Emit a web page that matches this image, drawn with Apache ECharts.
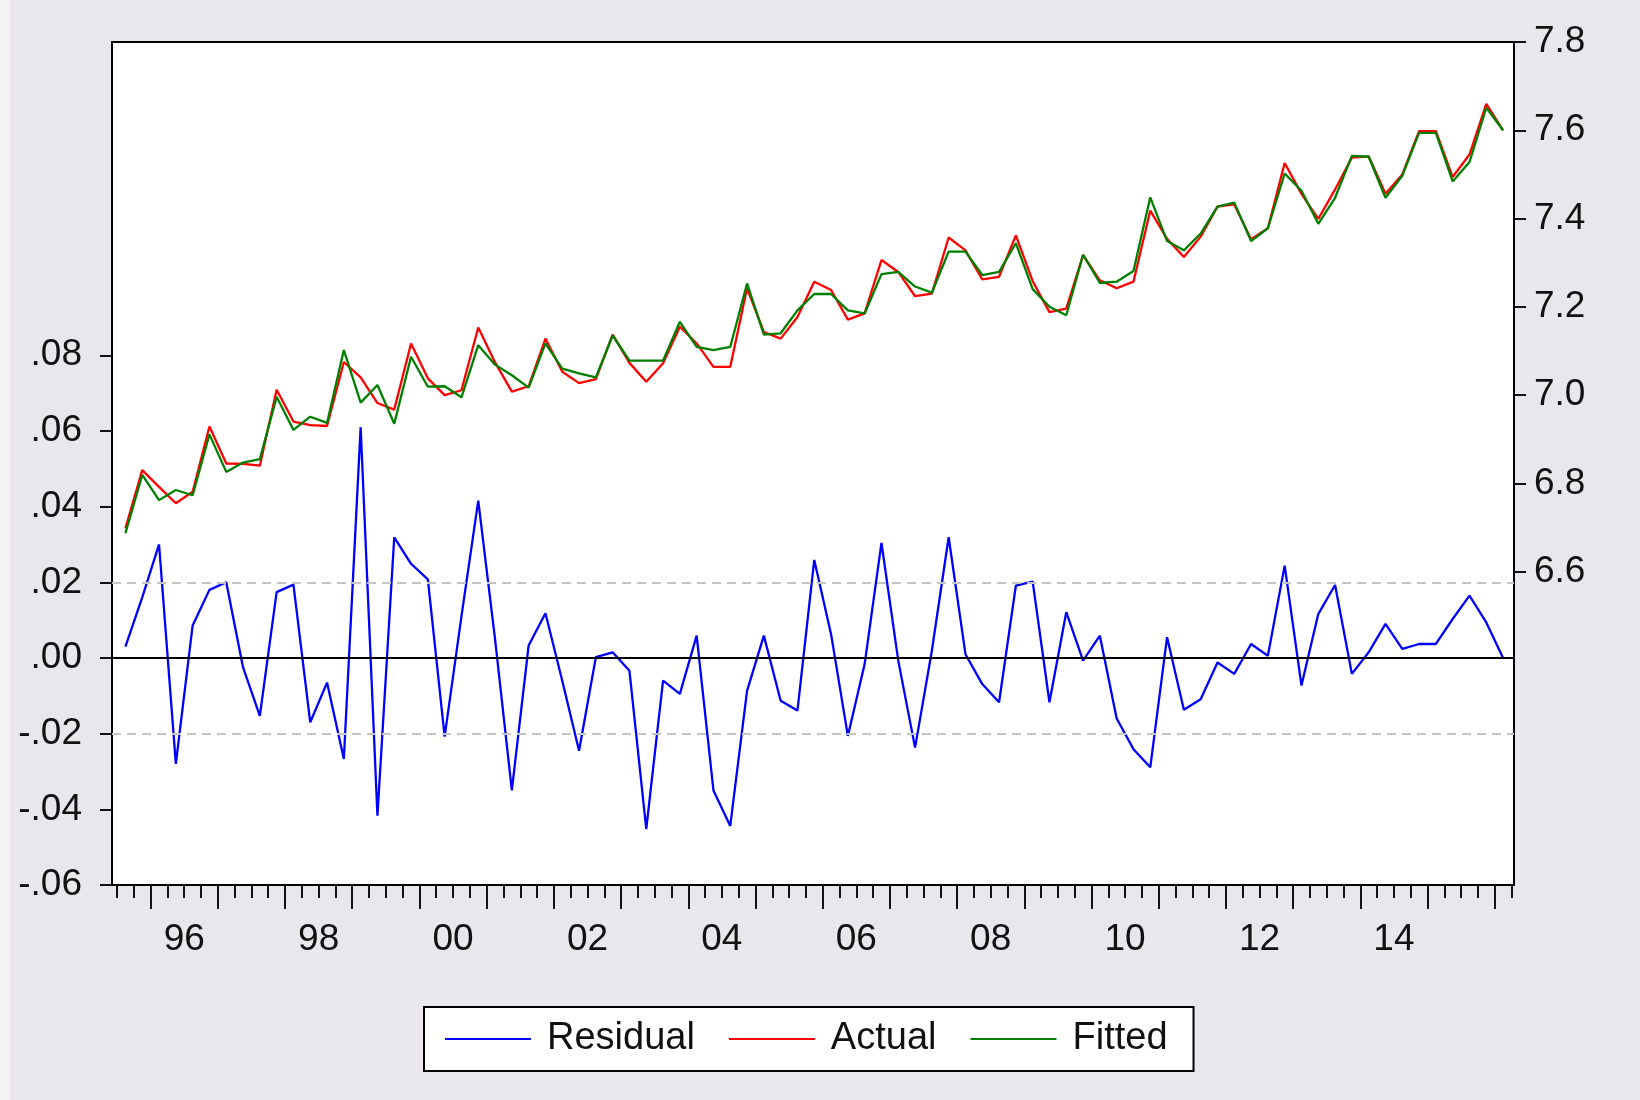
<!DOCTYPE html>
<html><head><meta charset="utf-8">
<script src="https://cdn.jsdelivr.net/npm/echarts@6/dist/echarts.min.js"></script>
<style>html,body{margin:0;padding:0;background:#e9e7eb;} #c{width:1640px;height:1100px;}</style>
</head><body><div id="c"></div>
<script>
// First observation: 1995Q3, quarterly
const firstYear = 1995;
const firstQuarter = 3;

const residual = [
  0.003, 0.016, 0.030, -0.028, 0.0086, 0.018, 0.020, -0.0025, -0.0153, 0.0174,
  0.0194, -0.017, -0.0065, -0.0267, 0.061, -0.0417, 0.0319, 0.0249, 0.0208, -0.0208,
  0.011, 0.0416, 0.005, -0.035, 0.0033, 0.0118, -0.006, -0.0245, 0.0002, 0.0015,
  -0.0034, -0.0452, -0.006, -0.0095, 0.0059, -0.035, -0.0444, -0.0087, 0.0059, -0.0113,
  -0.0139, 0.0259, 0.0063, -0.0206, -0.0016, 0.0304, -0.0007, -0.0237, 0.0019, 0.0319,
  0.001, -0.0069, -0.0117, 0.0191, 0.0202, -0.0117, 0.0121, -0.0007, 0.0059, -0.016,
  -0.0241, -0.0289, 0.0055, -0.0137, -0.0109, -0.0012, -0.0042, 0.0037, 0.0006, 0.0244,
  -0.0073, 0.0116, 0.0193, -0.0042, 0.0015, 0.009, 0.0024, 0.0037, 0.0037, 0.0103,
  0.0165, 0.0094, 0.000
];

const actual = [
  6.698, 6.830, 6.792, 6.755, 6.781, 6.929, 6.845, 6.844, 6.840, 7.012,
  6.940, 6.932, 6.930, 7.075, 7.040, 6.982, 6.967, 7.117, 7.038, 7.000,
  7.011, 7.153, 7.074, 7.008, 7.020, 7.128, 7.053, 7.027, 7.036, 7.137,
  7.073, 7.030, 7.072, 7.155, 7.117, 7.064, 7.064, 7.242, 7.143, 7.128,
  7.177, 7.257, 7.238, 7.171, 7.185, 7.306, 7.279, 7.224, 7.230, 7.357,
  7.328, 7.262, 7.268, 7.362, 7.258, 7.188, 7.196, 7.317, 7.260, 7.242,
  7.257, 7.418, 7.354, 7.313, 7.359, 7.427, 7.432, 7.353, 7.378, 7.526,
  7.456, 7.399, 7.466, 7.538, 7.541, 7.456, 7.500, 7.598, 7.598, 7.494,
  7.545, 7.660, 7.600
];

const fitted = [
  6.687, 6.819, 6.762, 6.785, 6.773, 6.911, 6.826, 6.847, 6.855, 6.996,
  6.921, 6.951, 6.937, 7.102, 6.983, 7.023, 6.935, 7.087, 7.019, 7.020,
  6.995, 7.113, 7.069, 7.045, 7.017, 7.117, 7.060, 7.049, 7.040, 7.135,
  7.078, 7.078, 7.078, 7.166, 7.109, 7.102, 7.109, 7.253, 7.137, 7.140,
  7.192, 7.229, 7.229, 7.192, 7.185, 7.274, 7.279, 7.246, 7.232, 7.325,
  7.325, 7.272, 7.279, 7.344, 7.240, 7.200, 7.181, 7.318, 7.254, 7.257,
  7.281, 7.448, 7.349, 7.328, 7.366, 7.427, 7.436, 7.349, 7.378, 7.502,
  7.463, 7.388, 7.447, 7.542, 7.540, 7.447, 7.497, 7.594, 7.594, 7.484,
  7.528, 7.651, 7.600
];

const labelYears = [1996, 1998, 2000, 2002, 2004, 2006, 2008, 2010, 2012, 2014];
const boundaryYears = [1996,1997,1998,1999,2000,2001,2002,2003,2004,2005,2006,2007,2008,2009,2010,2011,2012,2013,2014,2015,2016];
const residTicks = [-0.06, -0.04, -0.02, 0, 0.02, 0.04, 0.06, 0.08];
const levelTicks = [6.6, 6.8, 7.0, 7.2, 7.4, 7.6, 7.8];
const seBand = 0.0204;

// position helpers (observation index units)
const yearStartPos = y => (y - firstYear) * 4 + (1 - firstQuarter) - 0.5;
const yearMidPos = y => yearStartPos(y) + 2;
const n = residual.length;
const quarterBounds = [];
for (let i = -1; i < n; i++) quarterBounds.push(i + 0.5);
const longTicks = boundaryYears.map(yearStartPos);
const labelPos = labelYears.map(yearMidPos);
const posToLabel = {};
labelYears.forEach(y => { posToLabel[yearMidPos(y).toFixed(2)] = String(y % 100).padStart(2, '0'); });

const pair = arr => arr.map((v, i) => [i, v]);

const FONT = 'Liberation Sans, Arial, sans-serif';
const TXT = '#111';
const XMIN = -0.8, XMAX = 82.65;
const LW = 2.3;

const chart = echarts.init(document.getElementById('c'), null, {renderer: 'canvas'});
chart.setOption({
  animation: false,
  backgroundColor: 'transparent',
  graphic: [{type: 'rect', left: 0, top: 0, shape: {width: 10, height: 1100}, style: {fill: '#f3f2f5'}, z: -10}],
  grid: {left: 112, right: 126, top: 42, bottom: 215, show: true, backgroundColor: '#fff', borderColor: '#000', borderWidth: 2},
  legend: {
    left: 424, top: 1007,
    data: ['Residual', 'Actual', 'Fitted'],
    icon: 'rect',
    itemWidth: 86, itemHeight: 2, itemGap: 34,
    padding: [10, 26, 10, 21],
    backgroundColor: '#fff', borderColor: '#000', borderWidth: 2, borderRadius: 0,
    textStyle: {fontFamily: FONT, fontSize: 38, color: TXT, padding: [0, 0, 0, 11], lineHeight: 44}
  },
  xAxis: [{
    type: 'value', min: XMIN, max: XMAX, position: 'bottom',
    axisLine: {show: true, onZero: false, lineStyle: {color: '#000', width: 2}},
    axisTick: {show: true, inside: false, length: 24, lineStyle: {color: '#111', width: 2}, customValues: longTicks},
    axisLabel: {show: true, margin: 36, customValues: labelPos, fontFamily: FONT, fontSize: 37, color: TXT,
      formatter: v => posToLabel[Number(v).toFixed(2)] || ''},
    splitLine: {show: false}
  }, {
    type: 'value', min: XMIN, max: XMAX, position: 'bottom', gridIndex: 0,
    axisLine: {show: false, onZero: false},
    axisTick: {show: true, inside: false, length: 13, lineStyle: {color: '#111', width: 2}, customValues: quarterBounds},
    axisLabel: {show: false},
    splitLine: {show: false}
  }],
  yAxis: [{
    type: 'value', min: -0.06, max: 0.1628, position: 'left',
    axisLine: {show: true, onZero: false, lineStyle: {color: '#000', width: 2}},
    axisTick: {show: true, inside: false, length: 12, lineStyle: {color: '#111', width: 2}, customValues: residTicks},
    axisLabel: {show: true, margin: 30, customValues: residTicks, fontFamily: FONT, fontSize: 37, color: TXT,
      formatter: v => Number(v).toFixed(2).replace('0.', '.')},
    splitLine: {show: false}
  }, {
    type: 'value', min: 5.89, max: 7.8, position: 'right',
    axisLine: {show: true, onZero: false, lineStyle: {color: '#000', width: 2}},
    axisTick: {show: true, inside: false, length: 12, lineStyle: {color: '#111', width: 2}, customValues: levelTicks},
    axisLabel: {show: true, margin: 20, customValues: levelTicks, fontFamily: FONT, fontSize: 37, color: TXT,
      formatter: v => Number(v).toFixed(1)},
    splitLine: {show: false}
  }],
  series: [{
    name: 'refLines', type: 'line', data: [], xAxisIndex: 0, yAxisIndex: 0, z: 1, silent: true,
    markLine: {
      silent: true, symbol: ['none', 'none'], label: {show: false}, animation: false,
      data: [
        {yAxis: seBand, lineStyle: {color: '#c4c4c4', width: 2, type: [9, 6]}},
        {yAxis: -seBand, lineStyle: {color: '#c4c4c4', width: 2, type: [9, 6]}},
        {yAxis: 0, lineStyle: {color: '#000', width: 2, type: 'solid'}}
      ]
    }
  }, {
    name: 'Residual', type: 'line', data: pair(residual), xAxisIndex: 0, yAxisIndex: 0, z: 3,
    symbol: 'none', lineStyle: {color: '#0000ff', width: LW}, itemStyle: {color: '#0000ff'}
  }, {
    name: 'Actual', type: 'line', data: pair(actual), xAxisIndex: 0, yAxisIndex: 1, z: 3,
    symbol: 'none', lineStyle: {color: '#ff0000', width: LW}, itemStyle: {color: '#ff0000'}
  }, {
    name: 'Fitted', type: 'line', data: pair(fitted), xAxisIndex: 0, yAxisIndex: 1, z: 3,
    symbol: 'none', lineStyle: {color: '#008000', width: LW}, itemStyle: {color: '#008000'}
  }]
});
</script></body></html>
